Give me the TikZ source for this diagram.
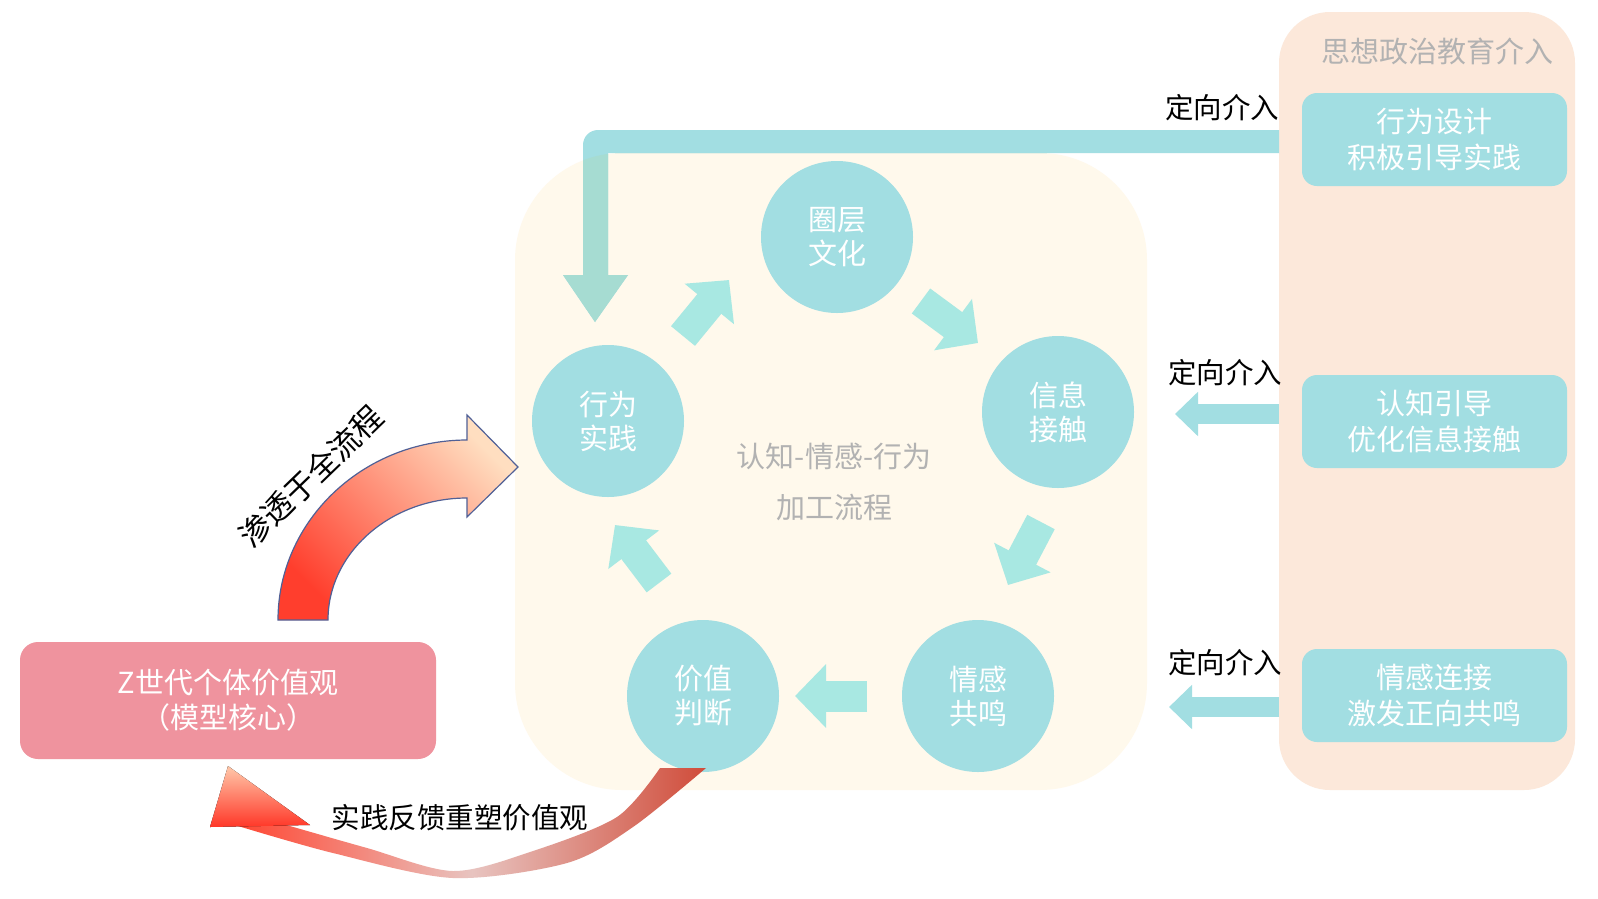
\documentclass[tikz,border=0pt]{standalone}
\usepackage{fontspec}
\setmainfont{Noto Sans CJK SC}
\usetikzlibrary{arrows.meta,calc}
\definecolor{tealc}{RGB}{162,222,226}
\definecolor{tealv}{RGB}{166,220,210}
\definecolor{arrowc}{RGB}{168,232,226}
\definecolor{creamc}{RGB}{255,249,236}
\definecolor{peachc}{RGB}{252,232,218}
\definecolor{pinkc}{RGB}{239,147,158}
\definecolor{greyt}{RGB}{178,178,178}
\definecolor{redc}{RGB}{255,62,45}
\definecolor{lightpeach}{RGB}{255,222,192}
\definecolor{outlc}{RGB}{80,96,150}
\definecolor{crL}{RGB}{255,70,50}
\definecolor{crM}{RGB}{232,196,192}
\definecolor{crR}{RGB}{208,76,58}
\definecolor{headtop}{RGB}{255,200,170}
\definecolor{headbot}{RGB}{255,55,40}
\tikzset{
 circ/.style={circle, fill=tealc, minimum size=152pt, inner sep=0pt, text=white, align=center, font=\fontsize{29pt}{34pt}\selectfont},
 ibox/.style={rounded corners=15pt, fill=tealc, minimum width=265pt, minimum height=93pt, inner sep=0pt, text=white, align=center, font=\fontsize{29pt}{36pt}\selectfont},
 lbl/.style={font=\fontsize{28.5pt}{34pt}\selectfont, text=black, inner sep=0pt},
 greytext/.style={font=\fontsize{29pt}{34pt}\selectfont, text=greyt, inner sep=0pt},
 cycarr/.style={draw=arrowc, line width=31pt, -{Triangle[width=62pt,length=31pt]}},
 sidearr/.style={draw=tealc, line width=20pt, -{Triangle[width=43pt,length=23pt]}},
}
\begin{document}
\begin{tikzpicture}[x=1pt,y=-1pt]
\useasboundingbox (0,0) rectangle (1598,898);
\fill[white] (0,0) rectangle (1598,898);
% panels
\fill[creamc, rounded corners=107pt] (515,153) rectangle (1147,790);
\fill[peachc, rounded corners=51pt] (1279,12) rectangle (1575,790);
\node[greytext] (title) at (1437,51) {思想政治教育介入};
% L-shaped arrow
\def\Lpath{(1279,130) -- (598,130) .. controls (589.7,130) and (583,136.7) .. (583,145) -- (583,275) -- (563,275) -- (595,322) -- (628,275) -- (608,275) -- (608,153) -- (1279,153) -- cycle}
\fill[tealc] \Lpath;
\begin{scope}
\clip[rounded corners=107pt] (515,153) rectangle (1147,790);
\fill[tealv] \Lpath;
\end{scope}
% cycle circles
\node[circ] (qc) at (837,237) {圈层\\文化};
\node[circ] (xx) at (1058,412) {信息\\接触};
\node[circ] (qg) at (978,696) {情感\\共鸣};
\node[circ] (jz) at (703,696) {价值\\判断};
\node[circ] (xw) at (608,421) {行为\\实践};
\node[greytext] (ct1) at (834,456) {认知-情感-行为};
\node[greytext] (ct2) at (834,507) {加工流程};
% cycle arrows
\coordinate (c1s) at (683,336); \coordinate (c1e) at (729,280);
\coordinate (c2s) at (921,301); \coordinate (c2e) at (978,343);
\coordinate (c3s) at (1041,522); \coordinate (c3e) at (1008,585);
\coordinate (c4s) at (867,696); \coordinate (c4e) at (795,696);
\coordinate (c5s) at (659,583); \coordinate (c5e) at (615,525);
\draw[cycarr] (c1s) -- (c1e);
\draw[cycarr] (c2s) -- (c2e);
\draw[cycarr] (c3s) -- (c3e);
\draw[cycarr] (c4s) -- (c4e);
\draw[cycarr] (c5s) -- (c5e);
% intervention boxes
\node[ibox] (b1) at (1434.5,139.5) {行为设计\\积极引导实践};
\node[ibox] (b2) at (1434.5,421.5) {认知引导\\优化信息接触};
\node[ibox] (b3) at (1434.5,695.5) {情感连接\\激发正向共鸣};
\coordinate (s2s) at (1279,414); \coordinate (s2e) at (1175,414);
\coordinate (s3s) at (1279,707); \coordinate (s3e) at (1169,707);
\draw[sidearr] (s2s) -- (s2e);
\draw[sidearr] (s3s) -- (s3e);
\node[lbl] (l1) at (1222,108) {定向介入};
\node[lbl] (l2) at (1225,373) {定向介入};
\node[lbl] (l3) at (1225,663) {定向介入};
% core box
\node[rounded corners=18pt, fill=pinkc, minimum width=416pt, minimum height=117pt, inner sep=0pt, text=white, align=center, font=\fontsize{29pt}{35pt}\selectfont] (core) at (228,700.5) {Z世代个体价值观\\（模型核心）};
% curved arrow up
\path[draw=outlc, line width=1.2pt, top color=lightpeach, bottom color=redc, shading angle=-45]
 (278,620) .. controls (278,521) and (363,440) .. (467,440) -- (467,415) -- (518,467) -- (467,517) -- (467,498) .. controls (390,498) and (328,553) .. (328,620) -- cycle;
\node[lbl, font=\fontsize{31pt}{34pt}\selectfont, rotate=44] (t1) at (311,476) {渗透于全流程};
% feedback crescent
\path[left color=crL, right color=crR, middle color=crM]
 plot[smooth] coordinates {(706,768) (633,827) (567,863) (453,878) (333,853) (238,826)}
 -- plot[smooth] coordinates {(283,824) (367,848) (453,871) (533,851) (617,817) (660,768)} -- cycle;
\fill[top color=headtop, bottom color=headbot] (228,766) -- (210,827) -- (310,825) -- cycle;
\node[lbl] (t2) at (460,818) {实践反馈重塑价值观};
\end{tikzpicture}
\end{document}
